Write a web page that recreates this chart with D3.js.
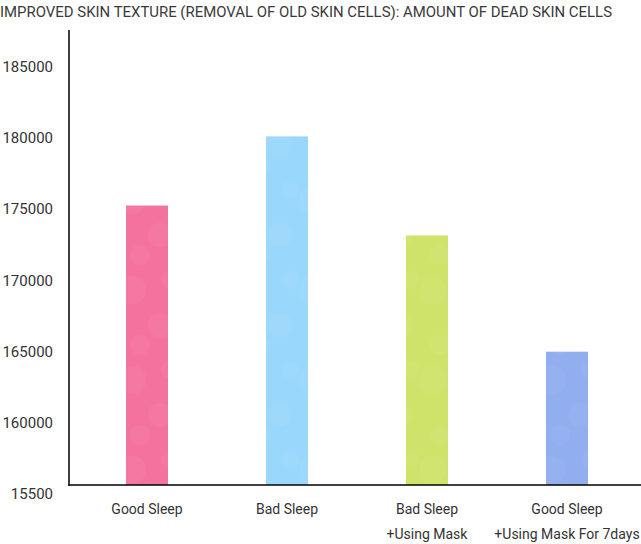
<!DOCTYPE html>
<html>
<head>
<meta charset="utf-8">
<script src="https://cdn.jsdelivr.net/npm/d3@7"></script>
<style>
  html, body { margin: 0; padding: 0; background: #fff; }
  svg { display: block; }
</style>
</head>
<body>
<svg id="chart" width="641" height="544"></svg>
<script>
const titleText = "IMPROVED SKIN TEXTURE (REMOVAL OF OLD SKIN CELLS): AMOUNT OF DEAD SKIN CELLS";
const categories = ["Good Sleep", "Bad Sleep", "Bad Sleep\n+Using Mask", "Good Sleep\n+Using Mask For 7days"];
const values = [175250, 180100, 173150, 165000];
const barColors = ["#f4739e", "#9ad7fc", "#cfe36a", "#91aeee"];
const tickValues = [155000, 160000, 165000, 170000, 175000, 180000, 185000];
const tickLabels = ["15500", "160000", "165000", "170000", "175000", "180000", "185000"];

const svg = d3.select("#chart");
const font = "Roboto, 'Noto Sans', sans-serif";

const x = d3.scaleBand().domain(categories).range([77, 637]).paddingInner(0.7).paddingOuter(0.35);
const y = d3.scaleLinear().domain([155650, 187560]).range([485, 30]);

// title
svg.append("text")
  .attr("x", 0).attr("y", 17)
  .attr("font-family", font).attr("font-size", 15)
  .attr("fill", "#3a3a3a")
  .attr("textLength", 612).attr("lengthAdjust", "spacingAndGlyphs")
  .text(titleText);

// subtle bokeh texture pattern
const defs = svg.append("defs");
const pat = defs.append("pattern").attr("id", "bokeh").attr("patternUnits", "userSpaceOnUse")
  .attr("width", 60).attr("height", 90);
[[12, 20, 14], [40, 55, 12], [20, 75, 10], [50, 10, 9]].forEach(c => {
  pat.append("circle").attr("cx", c[0]).attr("cy", c[1]).attr("r", c[2])
    .attr("fill", "#fff").attr("opacity", 0.04);
});

// bars
const bars = svg.append("g");
bars.selectAll("rect.bar").data(categories).join("rect")
  .attr("class", "bar")
  .attr("x", d => x(d))
  .attr("width", x.bandwidth())
  .attr("y", (d, i) => y(values[i]))
  .attr("height", (d, i) => y.range()[0] - y(values[i]))
  .attr("fill", (d, i) => barColors[i]);
bars.selectAll("rect.tex").data(categories).join("rect")
  .attr("class", "tex")
  .attr("x", d => x(d))
  .attr("width", x.bandwidth())
  .attr("y", (d, i) => y(values[i]))
  .attr("height", (d, i) => y.range()[0] - y(values[i]))
  .attr("fill", "url(#bokeh)");

// y tick labels
svg.append("g").selectAll("text").data(tickValues).join("text")
  .attr("x", 53)
  .attr("y", d => Math.min(y(d), 494))
  .attr("dy", "0.35em")
  .attr("text-anchor", "end")
  .attr("font-family", font).attr("font-size", 15)
  .attr("fill", "#333")
  .text((d, i) => tickLabels[i]);

// axes lines
svg.append("line").attr("x1", 69).attr("x2", 69).attr("y1", 30).attr("y2", 485.75)
  .attr("stroke", "#000").attr("stroke-width", 1.5);
svg.append("line").attr("x1", 68.25).attr("x2", 641).attr("y1", 485).attr("y2", 485)
  .attr("stroke", "#000").attr("stroke-width", 1.5);

// x labels
const xl = svg.append("g").selectAll("text").data(categories).join("text")
  .attr("x", d => x(d) + x.bandwidth() / 2)
  .attr("y", 514)
  .attr("text-anchor", "middle")
  .attr("font-family", font).attr("font-size", 14)
  .attr("fill", "#333");
xl.selectAll("tspan").data(d => d.split("\n")).join("tspan")
  .attr("x", function() { return d3.select(this.parentNode).attr("x"); })
  .attr("dy", (d, i) => i === 0 ? 0 : 25)
  .text(d => d);
</script>
</body>
</html>
